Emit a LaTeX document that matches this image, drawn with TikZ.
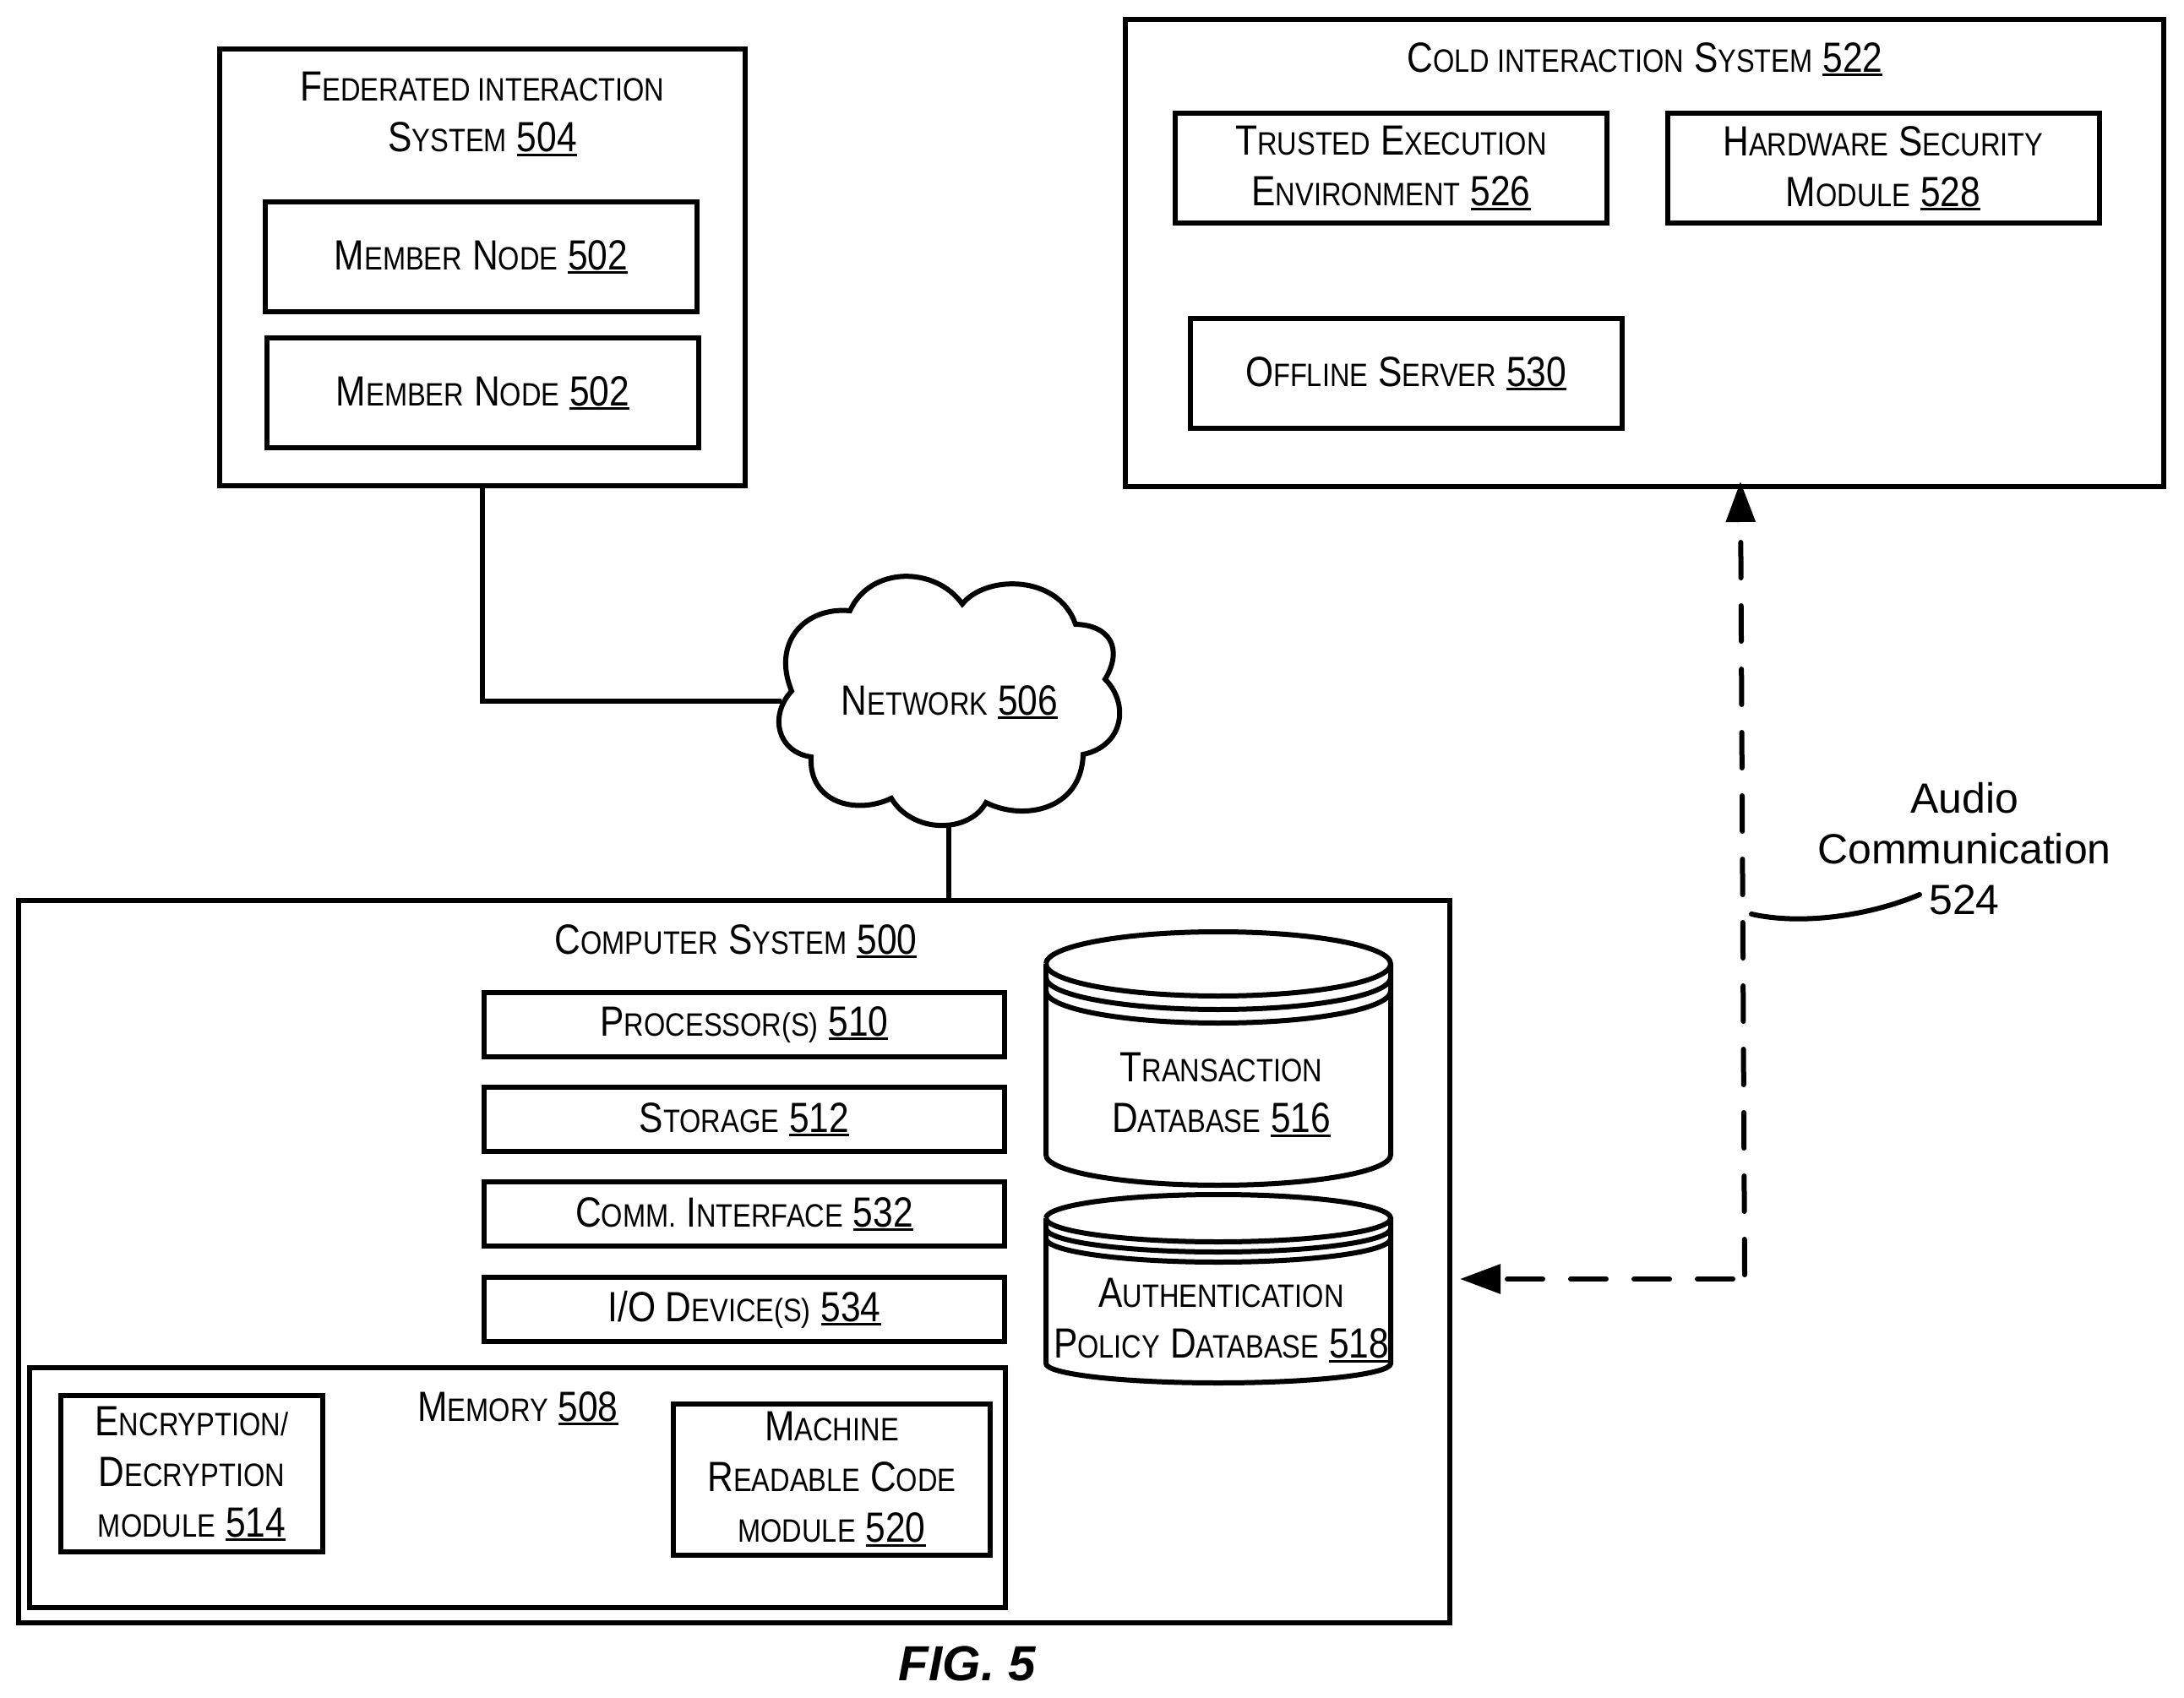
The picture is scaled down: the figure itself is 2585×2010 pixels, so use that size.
\documentclass[tikz,border=0pt]{standalone}
\usepackage{fontspec}
\setmainfont{Liberation Sans}
\newfontfamily\narrowfam[FakeStretch=0.85]{Liberation Sans}
\usetikzlibrary{arrows.meta}
\tikzset{
    boxnode/.style={draw,line width=1.8pt,inner sep=0pt,align=center,font=\capsfont,
        minimum width=#1},
    lbl/.style={inner sep=0pt,align=center,font=\capsfont},
    wire/.style={line width=1.8pt},
    audio/.style={line width=1.8pt,dash pattern=on 12.6pt off 9.9pt,line cap=round},
    audiotip/.style={-{Triangle[length=48*0.3pt,width=34*0.3pt]}}
}
\newcommand{\capsfont}{\narrowfam\fontsize{15}{18}\selectfont}
\newcommand{\sm}[1]{{\fontsize{11.5}{18}\selectfont\MakeUppercase{#1}}}
\newcommand{\nr}[1]{\setbox0\hbox{#1}\rlap{\rule[-1.4pt]{\wd0}{0.8pt}}\box0}
\begin{document}
\begin{tikzpicture}[x=0.3pt,y=-0.3pt]
    \useasboundingbox (0,0) rectangle (2585,2010);

    % upper systems
    \node[boxnode=622*0.3pt,minimum height=517*0.3pt] (federated) at (570.5,317) {};
    \node[lbl] (fedlbl) at (571,135) {F\sm{ederated interaction}\\S\sm{ystem} \nr{504}};
    \node[boxnode=511*0.3pt,minimum height=130*0.3pt] (member1) at (569.5,304) {M\sm{ember} N\sm{ode} \nr{502}};
    \node[boxnode=511*0.3pt,minimum height=130*0.3pt] (member2) at (571.5,465) {M\sm{ember} N\sm{ode} \nr{502}};

    \node[boxnode=1229*0.3pt,minimum height=553*0.3pt] (cold) at (1946.5,299.5) {};
    \node[lbl] (coldlbl) at (1947,70) {C\sm{old interaction} S\sm{ystem} \nr{522}};
    \node[boxnode=511*0.3pt,minimum height=130*0.3pt] (tee) at (1646.5,199) {T\sm{rusted} E\sm{xecution}\\E\sm{nvironment} \nr{526}};
    \node[boxnode=511*0.3pt,minimum height=130*0.3pt] (hsm) at (2229,199) {H\sm{ardware} S\sm{ecurity}\\M\sm{odule} \nr{528}};
    \node[boxnode=511*0.3pt,minimum height=130*0.3pt] (offline) at (1664,442) {O\sm{ffline} S\sm{erver} \nr{530}};

    % cloud
    \coordinate (cloudw) at (925,830);
    \coordinate (cloudb) at (1123,978);
    \draw[wire,fill=white] (937,818)
        .. controls (913,760) and (953,718) .. (1006,723)
        .. controls (1030,670) and (1107,670) .. (1139,715)
        .. controls (1167,680) and (1253,680) .. (1273,739)
        .. controls (1313,740) and (1330,767) .. (1308,804)
        .. controls (1337,833) and (1330,883) .. (1282,893)
        .. controls (1280,960) and (1210,972) .. (1167,950)
        .. controls (1147,987) and (1080,987) .. (1055,945)
        .. controls (1013,965) and (957,950) .. (960,896)
        .. controls (920,890) and (910,847) .. (937,818) -- cycle;
    \node[lbl] (network) at (1124,831) {N\sm{etwork} \nr{506}};

    % computer
    \node[boxnode=1694*0.3pt,minimum height=855*0.3pt] (computer) at (869,1493) {};
    \node[lbl] (complbl) at (871,1114) {C\sm{omputer} S\sm{ystem} \nr{500}};
    \node[boxnode=616*0.3pt,minimum height=76*0.3pt] (proc) at (881,1213) {P\sm{rocessor(s)} \nr{510}};
    \node[boxnode=616*0.3pt,minimum height=76*0.3pt] (storage) at (881,1325) {S\sm{torage} \nr{512}};
    \node[boxnode=616*0.3pt,minimum height=76*0.3pt] (comm) at (881,1437) {C\sm{omm.} I\sm{nterface} \nr{532}};
    \node[boxnode=616*0.3pt,minimum height=76*0.3pt] (iodev) at (881,1550) {I/O D\sm{evice(s)} \nr{534}};
    \node[boxnode=1155*0.3pt,minimum height=284*0.3pt] (memory) at (612,1761) {};
    \node[lbl] (memlbl) at (613,1667) {M\sm{emory} \nr{508}};
    \node[boxnode=310*0.3pt,minimum height=185*0.3pt] (encdec) at (227,1744.5) {E\sm{ncryption/}\\D\sm{ecryption}\\\sm{module} \nr{514}};
    \node[boxnode=375*0.3pt,minimum height=179*0.3pt] (mrc) at (984.5,1751) {M\sm{achine}\\R\sm{eadable} C\sm{ode}\\\sm{module} \nr{520}};

    % databases
    \def\drum#1#2#3#4#5{
        \draw[wire] (1238,#1) arc[start angle=180,end angle=-180,x radius=204,y radius=#3];
        \draw[wire] (1238,#1+#4) arc[start angle=180,end angle=0,x radius=204,y radius=#3];
        \draw[wire] (1238,#1+#4+#4) arc[start angle=180,end angle=0,x radius=204,y radius=#3];
        \draw[wire] (1238,#1) -- (1238,#2) arc[start angle=180,end angle=0,x radius=204,y radius=#5] -- (1646,#1);
    }
    \drum{1141}{1367}{38}{16}{36}
    \drum{1442}{1614}{28}{12}{23}
    \node[lbl] (transdb) at (1445.5,1296) {T\sm{ransaction}\\D\sm{atabase} \nr{516}};
    \node[lbl] (authdb) at (1445.5,1563) {A\sm{uthentication}\\P\sm{olicy} D\sm{atabase} \nr{518}};

    % links
    \draw[wire] (federated.south) |- (cloudw);
    \draw[wire] (cloudb) -- (cloudb |- computer.north);

    \coordinate (corner) at (2065,1514);
    \coordinate (cornerup) at (2065,1509);
    \coordinate (tipleft) at (1728,1514);
    \coordinate (tipup) at (2060,570);
    \draw[audio,audiotip,dash phase=18.3pt] (corner) -- (tipleft);
    \draw[audio,audiotip] (cornerup) -- (tipup);
    \node[font=\fontsize{15}{18}\selectfont,inner sep=0pt,align=center] (audiolbl) at (2325,1005) {Audio\\Communication\\524};
    \coordinate (leadend) at (2073,1082);
    \coordinate (leadstart) at (2272,1059);
    \draw[wire,line cap=round] (leadstart) .. controls (2210,1085) and (2130,1095) .. (leadend);

    \node[font=\fontsize{17.5}{20}\selectfont\bfseries\itshape,inner sep=0pt] (figlabel) at (1145,1969) {FIG. 5};
\end{tikzpicture}
\end{document}
